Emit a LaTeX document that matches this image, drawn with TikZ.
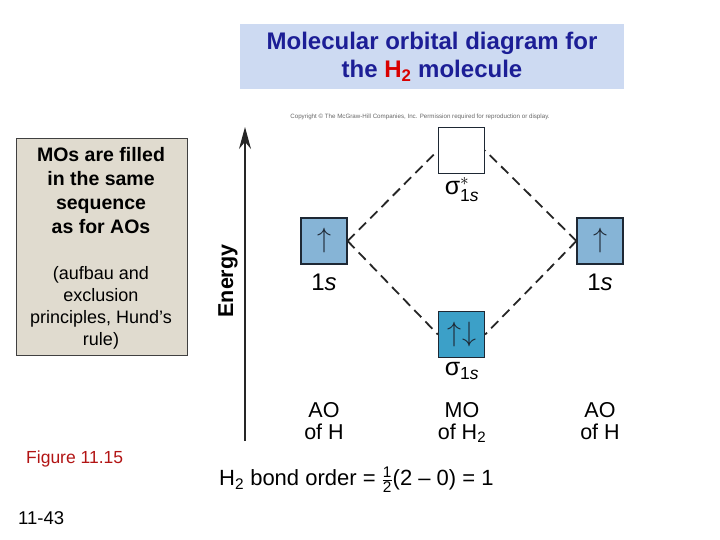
\documentclass[tikz,border=0pt]{standalone}
\usepackage{fontspec}
\usepackage{amsmath}
\usepackage{graphicx}
\setmainfont{Liberation Sans}
\usetikzlibrary{arrows.meta}

\definecolor{titlebg}{RGB}{205,218,242}
\definecolor{titleblue}{RGB}{28,30,150}
\definecolor{notebg}{RGB}{224,219,207}
\definecolor{aoblue}{RGB}{134,180,214}
\definecolor{moblue}{RGB}{60,160,200}
\definecolor{orbline}{RGB}{30,40,52}
\definecolor{figred}{RGB}{178,20,20}

\newcommand{\fsz}[2]{\fontsize{#1}{#2}\selectfont}
\newcommand{\spinup}{\scalebox{1.35}{$\uparrow$}}
\newcommand{\spindown}{\scalebox{1.35}{$\downarrow$}}

\begin{document}
\begin{tikzpicture}[x=1pt,y=-1pt,
    orb/.style={draw=orbline, line width=1.2pt, minimum size=46pt, inner sep=0pt, font=\fsz{20}{20}, text=orbline},
    lbl/.style={font=\fsz{21.5}{22}, align=center, inner sep=0pt},
    mo dash/.style={dashed, dash pattern=on 10pt off 6pt, line width=1.8pt, color=black!85}]
    \useasboundingbox (0,0) rectangle (720,540);

    % title
        \node[fill=titlebg, minimum width=384pt, minimum height=65pt] (title) at (432,56.5) {};
        \node[font=\fsz{24}{28}\bfseries, text=titleblue, align=center] (titletxt) at (432,57)
            {Molecular orbital diagram for\\the \textcolor{red!85!black}{H\textsubscript{2}} molecule};
        \node[font=\fsz{6.2}{7}, text=black!60] (copy) at (420,117)
            {Copyright \textcopyright{} The McGraw-Hill Companies, Inc. Permission required for reproduction or display.};

    % note box on the left
        \node[fill=notebg, draw=black!75, line width=0.8pt, minimum width=171pt, minimum height=217pt] (note) at (101.5,246.5) {};
        \node[font=\fsz{19.5}{24}\bfseries, align=center] (rule) at (101,191)
            {MOs are filled\\in the same\\sequence\\as for AOs};
        \node[font=\fsz{18}{22}, align=center] (why) at (101,308)
            {(aufbau and\\exclusion\\principles, Hund’s\\rule)};

    % energy axis
        \coordinate (E0) at (245,441);
        \coordinate (E1) at (245,127);
        \draw[line width=1.5pt, black!85, -{Stealth[length=22pt, width=12pt]}] (E0) -- (E1);
        \node[rotate=90, font=\fsz{21.5}{22}\bfseries] (energy) at (228,281) {Energy};

    % orbitals
        \node[orb, fill=aoblue] (ls) at (324,241) {\spinup};
        \node[orb, fill=aoblue] (rs) at (600,241) {\spinup};
        \node[orb, fill=white] (ss) at (461.5,150.5) {};
        \node[orb, fill=moblue] (sb) at (461.5,334.5) {\spinup\hspace{1pt}\spindown};

    % orbital labels
        \node[lbl, font=\fsz{24}{24}] (lsl) at (324,282) {1\textit{s}};
        \node[lbl, font=\fsz{24}{24}] (rsl) at (600,282) {1\textit{s}};
        \node[lbl, font=\fsz{25}{26}] (ssl) at (462,190) {$\text{σ}^{*}_{\text{1\textit{s}}}$};
        \node[lbl, font=\fsz{25}{26}] (sbl) at (462,371) {$\text{σ}_{\text{1\textit{s}}}$};

    % correlation lines
        \draw[mo dash] (ls.east) -- (ss.west);
        \draw[mo dash] (ls.east) -- (sb.west);
        \draw[mo dash] (rs.west) -- (ss.east);
        \draw[mo dash] (rs.west) -- (sb.east);

    % column captions
        \node[lbl, anchor=north] (aol) at (324,402) {AO\\of H};
        \node[lbl, anchor=north] (mol) at (462,402) {MO\\of H\textsubscript{2}};
        \node[lbl, anchor=north] (aor) at (600,402) {AO\\of H};

    % bond order
        \node[font=\fsz{22}{24}, anchor=west, inner sep=0pt] (bond) at (219,480)
            {H\textsubscript{2} bond order = $\tfrac{\text{1}}{\text{2}}$(2 – 0) = 1};

    % figure number and slide number
        \node[font=\fsz{17.5}{20}, text=figred, anchor=west, inner sep=0pt] (fig) at (26,459) {Figure 11.15};
        \node[font=\fsz{18.5}{20}, anchor=west, inner sep=0pt] (slide) at (18,518) {11-43};
\end{tikzpicture}
\end{document}
